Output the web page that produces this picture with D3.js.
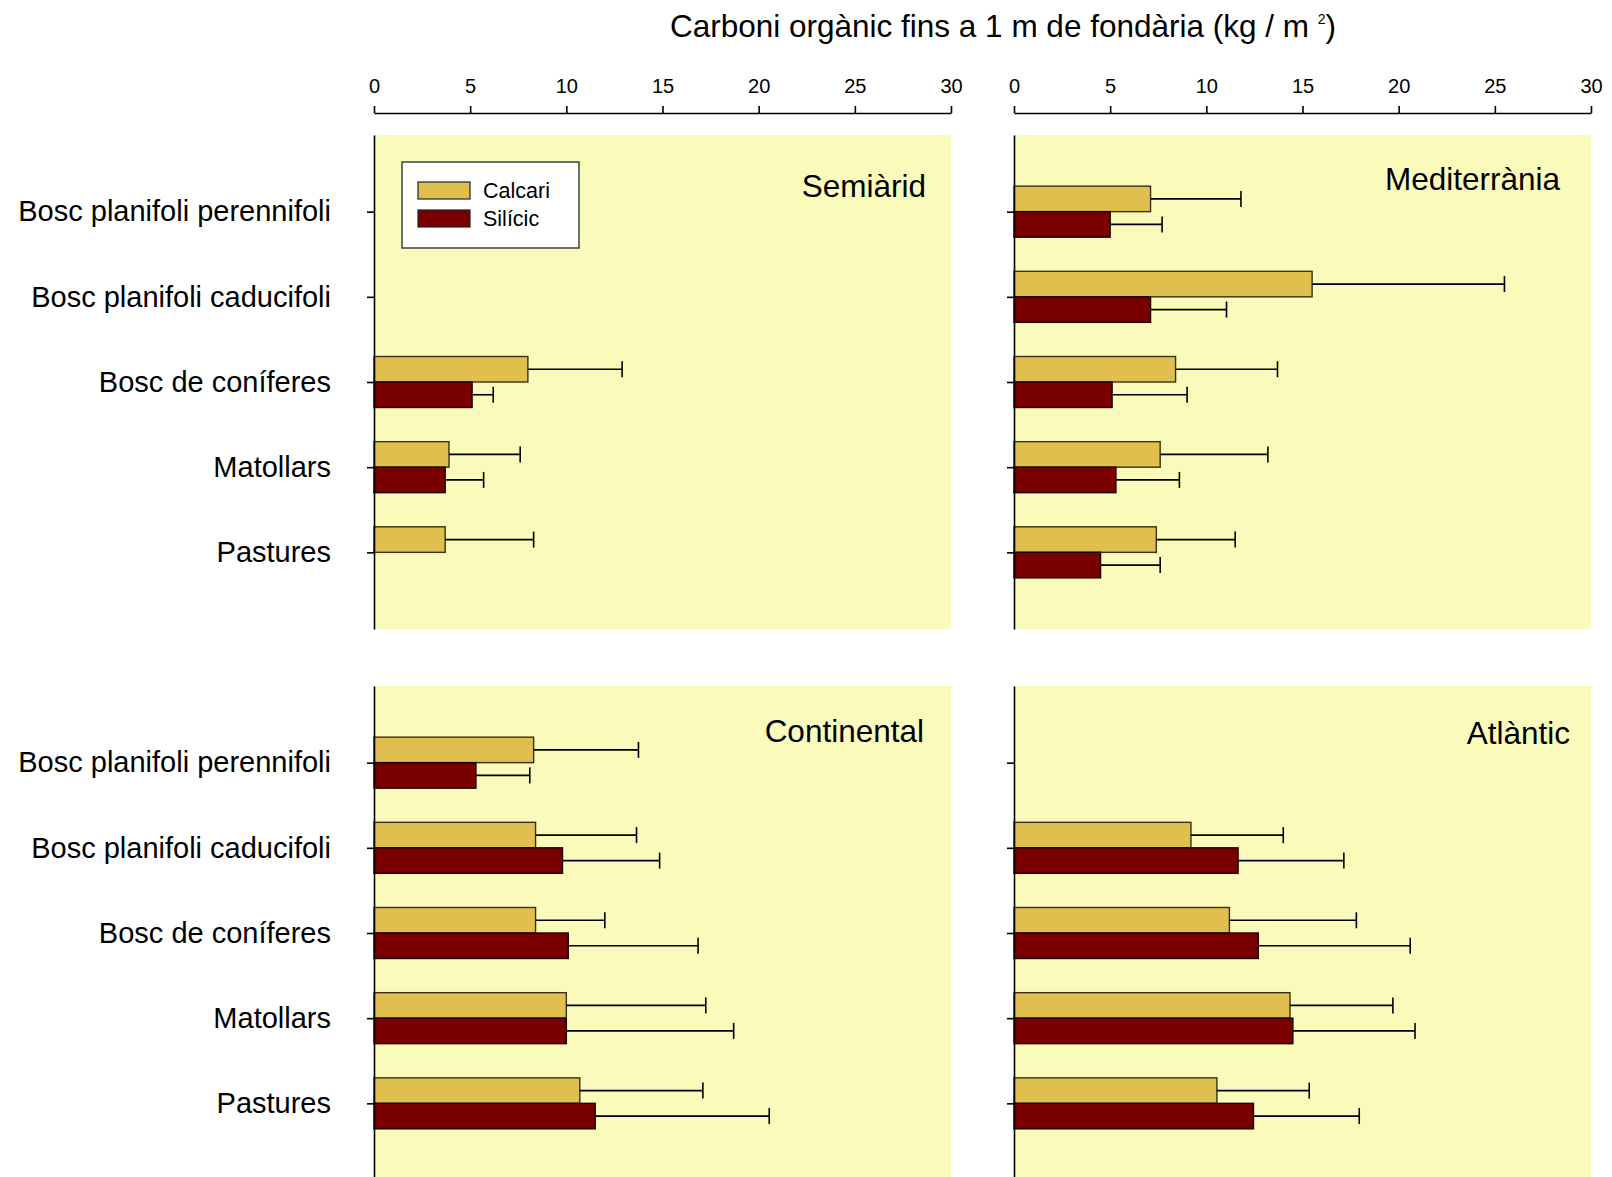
<!DOCTYPE html>
<html>
<head>
<meta charset="utf-8">
<script src="https://cdn.jsdelivr.net/npm/d3@7"></script>
<style>
  body { margin: 0; background: #fff; }
  text { font-family: "Liberation Sans", Arial, sans-serif; fill: #000; }
</style>
</head>
<body>
<svg id="chart" width="1612" height="1177"></svg>
<script>
// categories and series (kg C / m2), null = no data
var categories = ["Bosc planifoli perennifoli", "Bosc planifoli caducifoli", "Bosc de coníferes", "Matollars", "Pastures"];
var regions = ["Semiàrid", "Mediterrània", "Continental", "Atlàntic"];
var soils = ["Calcari", "Silícic"];
var xTicks = [0, 5, 10, 15, 20, 25, 30];

var semiaridCalcari   = [null, null, 8.0, 3.9, 3.7];
var semiaridCalcariSd = [null, null, 4.9, 3.7, 4.6];
var semiaridSilicic   = [null, null, 5.1, 3.7, null];
var semiaridSilicicSd = [null, null, 1.1, 2.0, null];

var mediterraniaCalcari   = [7.1, 15.5, 8.4, 7.6, 7.4];
var mediterraniaCalcariSd = [4.7, 10.0, 5.3, 5.6, 4.1];
var mediterraniaSilicic   = [5.0, 7.1, 5.1, 5.3, 4.5];
var mediterraniaSilicicSd = [2.7, 3.95, 3.9, 3.3, 3.1];

var continentalCalcari   = [8.3, 8.4, 8.4, 10.0, 10.7];
var continentalCalcariSd = [5.45, 5.25, 3.6, 7.25, 6.4];
var continentalSilicic   = [5.3, 9.8, 10.1, 10.0, 11.5];
var continentalSilicicSd = [2.8, 5.05, 6.75, 8.7, 9.05];

var atlanticCalcari   = [null, 9.2, 11.2, 14.35, 10.55];
var atlanticCalcariSd = [null, 4.8, 6.6, 5.35, 4.8];
var atlanticSilicic   = [null, 11.65, 12.7, 14.5, 12.45];
var atlanticSilicicSd = [null, 5.5, 7.9, 6.35, 5.5];

var colors = { "Calcari": "#e1bf4e", "Silícic": "#7a0000" };

// panels built from the arrays above (tx / ty: where the region name sits)
var panels = [
  { name: regions[0], col: 0, row: 0, tx: 25, ty: 62, series: [[semiaridCalcari, semiaridCalcariSd], [semiaridSilicic, semiaridSilicicSd]] },
  { name: regions[1], col: 1, row: 0, tx: 31, ty: 55, series: [[mediterraniaCalcari, mediterraniaCalcariSd], [mediterraniaSilicic, mediterraniaSilicicSd]] },
  { name: regions[2], col: 0, row: 1, tx: 27, ty: 56, series: [[continentalCalcari, continentalCalcariSd], [continentalSilicic, continentalSilicicSd]] },
  { name: regions[3], col: 1, row: 1, tx: 21, ty: 58, series: [[atlanticCalcari, atlanticCalcariSd], [atlanticSilicic, atlanticSilicicSd]] }
];

var svg = d3.select("#chart");
var colX = [374, 1014], panelW = 577;
var rowY = [135, 686], panelH = 494;
var barH = 25.5, capH = 16;

// title
var title = svg.append("text")
    .attr("x", 1003).attr("y", 37)
    .attr("text-anchor", "middle")
    .style("font-size", "31.5px");
title.append("tspan").text("Carboni orgànic fins a 1 m de fondària (kg / m ");
title.append("tspan").attr("dy", -13).style("font-size", "14px").text("2");
title.append("tspan").attr("dy", 13).text(")");

// top axes
colX.forEach(function(cx) {
  var x = d3.scaleLinear().domain([0, 30]).range([cx, cx + panelW]);
  var ax = svg.append("g")
      .attr("transform", "translate(0,113)")
      .call(d3.axisTop(x).tickValues(xTicks).tickSize(7).tickSizeOuter(0).tickPadding(13));
  ax.selectAll("text").style("font-size", "20px");
  ax.selectAll("path, line").attr("stroke", "#000").attr("stroke-width", 1.6);
});

panels.forEach(function(p) {
  var x0 = colX[p.col], y0 = rowY[p.row];
  var x = d3.scaleLinear().domain([0, 30]).range([x0, x0 + panelW]);
  var y = d3.scalePoint().domain(categories).range([y0, y0 + panelH]).padding(0.9);
  var g = svg.append("g");

  g.append("rect")
      .attr("x", x0).attr("y", y0)
      .attr("width", panelW).attr("height", panelH)
      .attr("fill", "#fafbbb");

  p.series.forEach(function(s, si) {
    var rows = categories.map(function(c, i) { return { cat: c, v: s[0][i], sd: s[1][i] }; })
        .filter(function(d) { return d.v != null; });
    var off = si === 0 ? -barH : 0;

    g.selectAll(null).data(rows).enter().append("rect")
        .attr("x", x(0))
        .attr("y", function(d) { return y(d.cat) + off; })
        .attr("width", function(d) { return x(d.v) - x(0); })
        .attr("height", barH)
        .attr("fill", colors[soils[si]])
        .attr("stroke", si === 0 ? "#3a2f10" : "#1a0000")
        .attr("stroke-width", 1.4);

    g.selectAll(null).data(rows).enter().append("line")
        .attr("x1", function(d) { return x(d.v); })
        .attr("x2", function(d) { return x(d.v + d.sd); })
        .attr("y1", function(d) { return y(d.cat) + off + barH / 2; })
        .attr("y2", function(d) { return y(d.cat) + off + barH / 2; })
        .attr("stroke", "#000").attr("stroke-width", 1.6);

    g.selectAll(null).data(rows).enter().append("line")
        .attr("x1", function(d) { return x(d.v + d.sd); })
        .attr("x2", function(d) { return x(d.v + d.sd); })
        .attr("y1", function(d) { return y(d.cat) + off + barH / 2 - capH / 2; })
        .attr("y2", function(d) { return y(d.cat) + off + barH / 2 + capH / 2; })
        .attr("stroke", "#000").attr("stroke-width", 1.6);
  });

  // category axis
  var yAxis = d3.axisLeft(y).tickSize(7).tickSizeOuter(0).tickPadding(36);
  if (p.col === 1) yAxis.tickFormat("");
  var ay = g.append("g").attr("transform", "translate(" + x0 + ",0)").call(yAxis);
  ay.selectAll("text").style("font-size", "29px");
  ay.selectAll("path, line").attr("stroke", "#000").attr("stroke-width", 1.6);

  g.append("text")
      .attr("x", x0 + panelW - p.tx)
      .attr("y", y0 + p.ty)
      .attr("text-anchor", "end")
      .style("font-size", "31.5px")
      .text(p.name);
});

// legend inside Semiàrid panel
var leg = svg.append("g").attr("transform", "translate(402,162)");
leg.append("rect").attr("width", 177).attr("height", 86)
    .attr("fill", "#fff").attr("stroke", "#333").attr("stroke-width", 1.4);
soils.forEach(function(s, i) {
  leg.append("rect")
      .attr("x", 16).attr("y", 20 + i * 28)
      .attr("width", 52).attr("height", 17)
      .attr("fill", colors[s]).attr("stroke", "#222").attr("stroke-width", 1.2);
  leg.append("text")
      .attr("x", 81).attr("y", 28.5 + i * 28)
      .attr("dy", "0.35em")
      .style("font-size", "21.5px")
      .text(s);
});
</script>
</body>
</html>
